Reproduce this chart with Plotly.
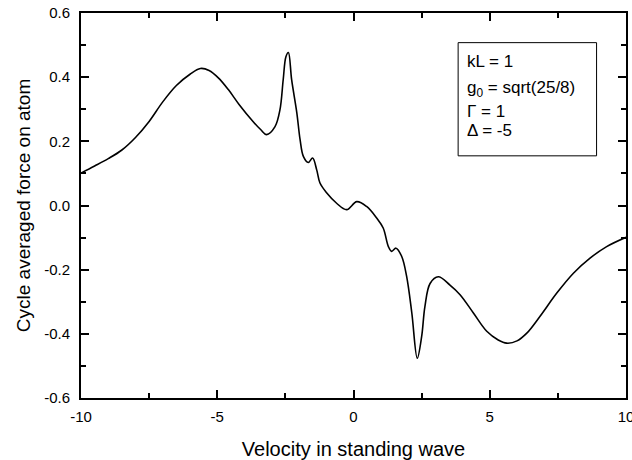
import plotly.graph_objects as go

velocity = [-10, -9.5, -9.0, -8.5, -8.0, -7.5, -7.0, -6.5, -6.0, -5.62, -5.30, -4.96, -4.60, -4.20, -3.68,
            -3.40, -3.19, -2.88, -2.70, -2.58, -2.48, -2.39, -2.27, -2.08, -1.96, -1.84,
            -1.66, -1.50, -1.35, -1.23, -0.98, -0.62, -0.25, 0.12, 0.48, 0.85,
            1.09, 1.28, 1.40, 1.56, 1.77, 1.95, 2.14, 2.34, 2.50, 2.62,
            2.81, 3.11, 3.54, 3.91, 4.40, 4.89, 5.31, 5.62, 6.0, 6.36, 6.84, 7.46,
            8.07, 8.68, 9.29, 10]
force = [0.101, 0.123, 0.146, 0.173, 0.212, 0.262, 0.323, 0.374, 0.409, 0.427, 0.421, 0.398, 0.362, 0.315, 0.261,
         0.236, 0.221, 0.246, 0.298, 0.392, 0.464, 0.477, 0.392, 0.289, 0.205, 0.153,
         0.134, 0.148, 0.111, 0.070, 0.039, 0.007, -0.013, 0.012, -0.003, -0.039,
         -0.070, -0.128, -0.143, -0.133, -0.159, -0.221, -0.335, -0.476, -0.409, -0.315,
         -0.243, -0.222, -0.248, -0.278, -0.335, -0.392, -0.419, -0.429, -0.422, -0.398, -0.346, -0.273,
         -0.211, -0.164, -0.128, -0.099]

x_ticks = [-10, -5, 0, 5, 10]
y_ticks = [-0.6, -0.4, -0.2, 0.0, 0.2, 0.4, 0.6]
y_tick_labels = ["-0.6", "-0.4", "-0.2", "0.0", "0.2", "0.4", "0.6"]
legend_lines = ["kL = 1", "g<sub>0</sub> = sqrt(25/8)", "\u0393 = 1", "\u0394 = -5"]

FONT = "Liberation Sans, Arial, sans-serif"

fig = go.Figure()
fig.add_trace(go.Scatter(x=velocity, y=force, mode="lines",
                         line=dict(color="black", width=1.6, shape="spline", smoothing=1.0),
                         showlegend=False, hoverinfo="skip"))

axis_common = dict(showline=True, linecolor="black", linewidth=2, mirror="ticks",
                   ticks="inside", ticklen=8, tickwidth=1.5, tickcolor="black",
                   showgrid=False, zeroline=False, automargin=False,
                   tickfont=dict(family=FONT, size=15, color="black"))

fig.update_xaxes(range=[-10, 10], tickvals=x_ticks, ticktext=[str(v) for v in x_ticks],
                 ticklabelstandoff=4, ticklabeloverflow="allow",
                 minor=dict(dtick=2.5, tick0=0, ticks="inside", ticklen=5, tickwidth=1.5, tickcolor="black", showgrid=False),
                 title=dict(text="Velocity in standing wave", font=dict(family=FONT, size=20, color="black"), standoff=18),
                 **axis_common)
fig.update_yaxes(range=[-0.6, 0.6], tickvals=y_ticks, ticktext=y_tick_labels,
                 ticklabelstandoff=6, ticklabeloverflow="allow",
                 minor=dict(dtick=0.1, tick0=0, ticks="inside", ticklen=5, tickwidth=1.5, tickcolor="black", showgrid=False),
                 title=dict(text="Cycle averaged force on atom", font=dict(family=FONT, size=19, color="black"), standoff=8),
                 **axis_common)

fig.add_shape(type="rect", xref="paper", yref="paper", x0=0.692, x1=0.946, y0=0.629, y1=0.923,
              line=dict(color="black", width=1), fillcolor="white", layer="above")

legend_y = [0.874, 0.803, 0.744, 0.696]
for txt, yy in zip(legend_lines, legend_y):
    fig.add_annotation(xref="paper", yref="paper", x=0.710, y=yy, text=txt, showarrow=False,
                       xanchor="left", yanchor="middle", xshift=-3,
                       font=dict(family=FONT, size=17, color="black"))

fig.update_layout(width=632, height=460, margin=dict(l=81, r=6, t=13, b=62),
                  plot_bgcolor="white", paper_bgcolor="white")

fig.write_html("out.html")
